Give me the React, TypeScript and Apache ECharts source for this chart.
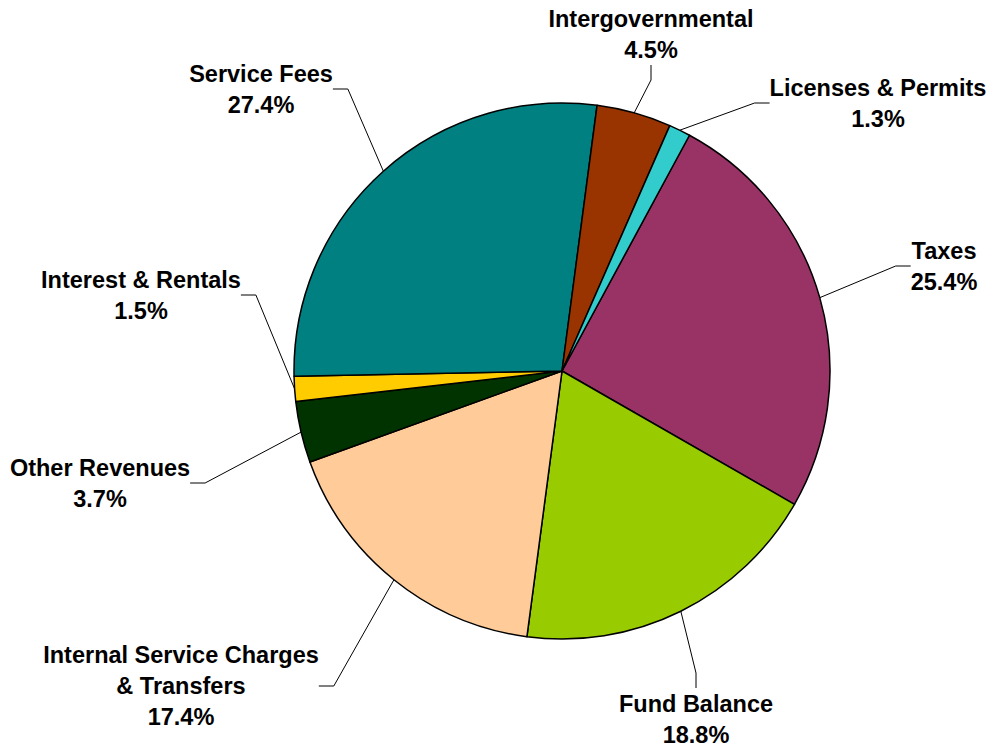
import React, { useEffect, useRef } from "react";
import * as echarts from "echarts";

const categories = [
  "Taxes",
  "Fund Balance",
  "Internal Service Charges & Transfers",
  "Other Revenues",
  "Interest & Rentals",
  "Service Fees",
  "Intergovernmental",
  "Licenses & Permits",
];
const values = [25.4, 18.8, 17.4, 3.7, 1.5, 27.4, 4.5, 1.3];
const colors = ["#993366", "#99CC00", "#FFCC99", "#003300", "#FFCC00", "#008080", "#993300", "#33CCCC"];
// label block centres (px)
const labelX = [944, 696, 181, 100, 141, 261, 651, 878];
const labelY = [266, 719, 686, 483, 295, 89, 34, 103];

export default function App() {
  const ref = useRef<HTMLDivElement>(null);
  useEffect(() => {
    if (!ref.current) return;
    const chart = echarts.init(ref.current, undefined, { renderer: "svg" });
    chart.setOption({
      animation: false,
      backgroundColor: "#ffffff",
      series: [
        {
          type: "pie",
          center: [562, 371],
          radius: 268,
          startAngle: 61.6,
          clockwise: true,
          avoidLabelOverlap: false,
          data: categories.map((c, i) => ({
            name: c,
            value: values[i],
            itemStyle: { color: colors[i] },
          })),
          itemStyle: { borderColor: "#000000", borderWidth: 1.5 },
          label: {
            show: true,
            position: "outside",
            fontFamily: "Liberation Sans, Arial, sans-serif",
            fontWeight: "bold",
            fontSize: 23.5,
            lineHeight: 31,
            color: "#000000",
            align: "center",
            formatter: (p: any) => {
              const n = p.name === "Internal Service Charges & Transfers"
                ? "Internal Service Charges\n& Transfers"
                : p.name;
              return n + "\n" + values[p.dataIndex].toFixed(1) + "%";
            },
          },
          labelLine: {
            show: true,
            length: 15,
            length2: 15,
            lineStyle: { color: "#000000", width: 1 },
          },
          labelLayout: (p: any) => ({
            x: labelX[p.dataIndex],
            y: labelY[p.dataIndex],
            align: "center",
            verticalAlign: "middle",
          }),
          emphasis: { disabled: true },
        },
      ],
    });
    return () => chart.dispose();
  }, []);
  return (
    <div
      ref={ref}
      style={{ position: "fixed", left: 0, top: 0, width: 992, height: 748 }}
    />
  );
}
